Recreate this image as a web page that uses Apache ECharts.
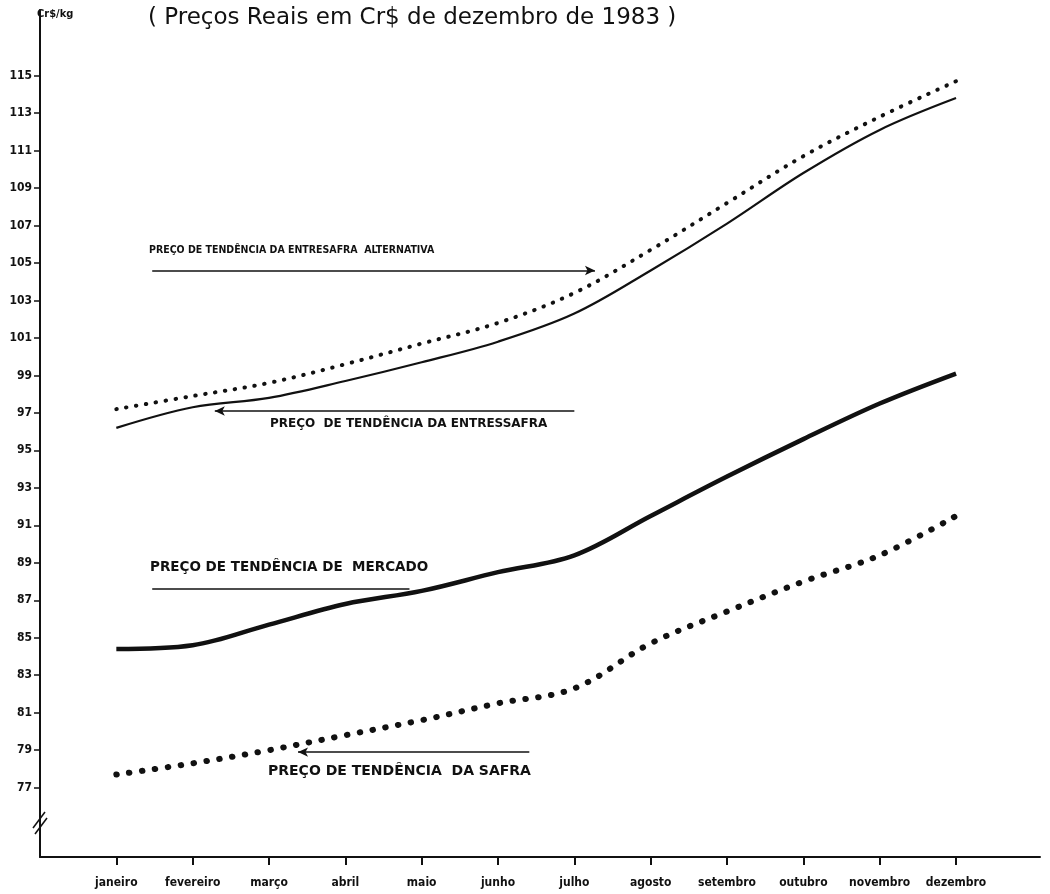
<!DOCTYPE html>
<html><head><meta charset="utf-8">
<script src="https://cdn.jsdelivr.net/npm/echarts@6/dist/echarts.min.js"></script>
<style>html,body{margin:0;background:#fff}#c{width:1050px;height:894px}</style>
</head><body><div id="c"></div>
<script>
// ---- data ----
const months = ['janeiro','fevereiro','março','abril','maio','junho','julho','agosto','setembro','outubro','novembro','dezembro'];
const monthIdx = [0,1,2,3,4,5,6,7,8,9,10,11];
const yTicks = [77,79,81,83,85,87,89,91,93,95,97,99,101,103,105,107,109,111,113,115];
const alternativa = [97.2, 97.9, 98.6, 99.6, 100.7, 101.8, 103.4, 105.7, 108.2, 110.7, 112.8, 114.7];
const entressafra = [96.2, 97.3, 97.8, 98.7, 99.7, 100.8, 102.3, 104.6, 107.1, 109.8, 112.1, 113.8];
const mercado     = [84.4, 84.6, 85.7, 86.8, 87.5, 88.5, 89.4, 91.5, 93.6, 95.6, 97.5, 99.1];
const safra       = [77.7, 78.3, 79.0, 79.8, 80.6, 81.5, 82.3, 84.7, 86.4, 88.0, 89.4, 91.5];
const labels = {
  alt: 'PREÇO DE TENDÊNCIA DA ENTRESAFRA  ALTERNATIVA',
  entre: 'PREÇO  DE TENDÊNCIA DA ENTRESSAFRA',
  merc: 'PREÇO DE TENDÊNCIA DE  MERCADO',
  safra: 'PREÇO DE TENDÊNCIA  DA SAFRA'
};
const title = '( Preços Reais em Cr$ de dezembro de 1983 )';
const unit = 'Cr$/kg';

// ---- chart ----
const F = '"DejaVu Sans Condensed","DejaVu Sans",sans-serif';
const FW = '"DejaVu Sans",sans-serif';
const pair = arr => monthIdx.map((m, i) => [m, arr[i]]);
const ink = '#111';
function arrow(x1, x2, y, head) {
  return [
    { coord: [x1, y], symbol: 'none' },
    { coord: [x2, y], symbol: head ? 'arrow' : 'none', symbolSize: [7, 10] }
  ];
}
const mlBase = {
  silent: true, animation: false,
  lineStyle: { color: ink, type: 'solid', width: 1.5 },
  label: { show: false }
};

const chart = echarts.init(document.getElementById('c'), null, { renderer: 'canvas' });
chart.setOption({
  backgroundColor: '#fff',
  animation: false,
  grid: { left: 40, right: 10, top: 10, bottom: 37 },
  xAxis: {
    type: 'value', min: -1, max: 12.1,
    splitLine: { show: false },
    axisLine: { onZero: false, lineStyle: { color: ink, width: 2 } },
    axisTick: { customValues: monthIdx, length: 8, lineStyle: { color: ink, width: 2 } },
    axisLabel: {
      customValues: monthIdx, margin: 20, color: ink,
      fontFamily: F, fontWeight: 'bold', fontSize: 12,
      formatter: v => months[Math.round(v)] || ''
    }
  },
  yAxis: {
    type: 'value', min: 73.3, max: 118.5,
    splitLine: { show: false },
    axisLine: { show: true, onZero: false, lineStyle: { color: ink, width: 2 } },
    axisTick: { customValues: yTicks, length: 6, lineStyle: { color: ink, width: 1.5 } },
    axisLabel: {
      customValues: yTicks, margin: 8, color: ink,
      fontFamily: F, fontWeight: 'bold', fontSize: 12
    }
  },
  series: [
    {
      name: 'alternativa', type: 'line', data: pair(alternativa), smooth: 0.35,
      showSymbol: false, silent: true,
      lineStyle: { color: ink, width: 4, type: [0.5, 9.5], cap: 'round' },
      markLine: Object.assign({ data: [arrow(0.47, 6.27, 104.6, true)] }, mlBase)
    },
    {
      name: 'entressafra', type: 'line', data: pair(entressafra), smooth: 0.35,
      showSymbol: false, silent: true,
      lineStyle: { color: ink, width: 2.2 },
      markLine: Object.assign({ data: [arrow(6.0, 1.29, 97.1, true)] }, mlBase)
    },
    {
      name: 'mercado', type: 'line', data: pair(mercado), smooth: 0.35,
      showSymbol: false, silent: true,
      lineStyle: { color: ink, width: 4.5 },
      markLine: Object.assign({ data: [arrow(0.47, 3.84, 87.6, false)] }, mlBase)
    },
    {
      name: 'safra', type: 'line', data: pair(safra), smooth: 0.35,
      showSymbol: false, silent: true,
      lineStyle: { color: ink, width: 6, type: [0.5, 12.5], cap: 'round' },
      markLine: Object.assign({ data: [arrow(5.41, 2.38, 78.9, true)] }, mlBase)
    }
  ],
  graphic: [
    { type: 'text', left: 148, top: 7, style: { text: title, font: '500 23px ' + FW, fill: ink } },
    { type: 'text', left: 37, top: 9, style: { text: unit, font: 'bold 11px ' + F, fill: ink } },
    { type: 'text', left: 149, top: 245, style: { text: labels.alt, font: 'bold 10.5px ' + F, fill: ink } },
    { type: 'text', left: 270, top: 418, style: { text: labels.entre, font: 'bold 12px ' + FW, fill: ink } },
    { type: 'text', left: 150, top: 560, style: { text: labels.merc, font: 'bold 13.5px ' + FW, fill: ink } },
    { type: 'text', left: 268, top: 764, style: { text: labels.safra, font: 'bold 14px ' + FW, fill: ink } },
    // axis break mark
    { type: 'line', shape: { x1: 33, y1: 828, x2: 45, y2: 812 }, style: { stroke: ink, lineWidth: 1.5 } },
    { type: 'line', shape: { x1: 35, y1: 834, x2: 47, y2: 818 }, style: { stroke: ink, lineWidth: 1.5 } }
  ]
});
</script>
</body></html>
